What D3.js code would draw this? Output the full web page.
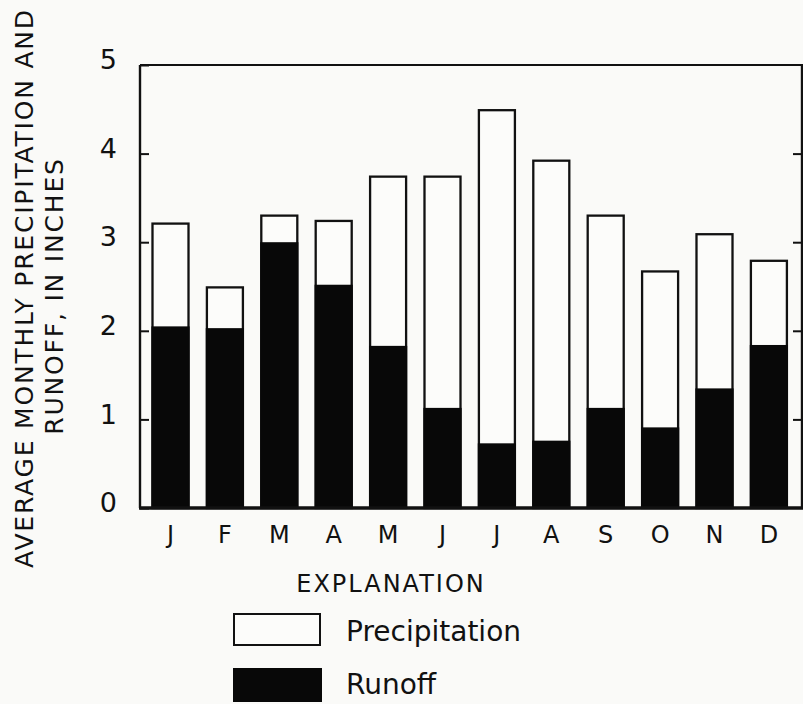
<!DOCTYPE html>
<html>
<head>
<meta charset="utf-8">
<script src="https://cdn.jsdelivr.net/npm/d3@7"></script>
<style>
  html, body { margin: 0; padding: 0; background: #fafaf8; }
  svg { display: block; }
  text { font-family: "DejaVu Sans", sans-serif; fill: #111; }
</style>
</head>
<body>
<svg id="chart" width="803" height="704"></svg>
<script>
const months = ["J","F","M","A","M","J","J","A","S","O","N","D"];
const precipitation = [3.21, 2.49, 3.30, 3.24, 3.74, 3.74, 4.49, 3.92, 3.30, 2.67, 3.09, 2.79];
const runoff = [2.05, 2.03, 3.00, 2.52, 1.83, 1.13, 0.73, 0.76, 1.13, 0.91, 1.35, 1.84];
const yTicks = [0, 1, 2, 3, 4, 5];
const yTitle = ["AVERAGE MONTHLY PRECIPITATION AND", "RUNOFF, IN INCHES"];
const legendTitle = "EXPLANATION";
const seriesNames = ["Precipitation", "Runoff"];

(function () {
const svg = d3.select("#chart");
const pLeft = 140, pRight = 802, pTop = 65, pBottom = 508;

const x = d3.scaleBand()
  .domain(d3.range(months.length))
  .range([143.3, 796.1])
  .paddingInner(0.338)
  .paddingOuter(0.169);
const y = d3.scaleLinear().domain([0, 5]).range([pBottom, pTop]);

// frame
svg.append("line").attr("x1", pLeft).attr("x2", pRight + 2).attr("y1", pTop).attr("y2", pTop)
  .attr("stroke", "#111").attr("stroke-width", 2.2);
svg.append("line").attr("x1", pLeft).attr("x2", pLeft).attr("y1", pTop).attr("y2", pBottom)
  .attr("stroke", "#111").attr("stroke-width", 2.4);
svg.append("line").attr("x1", pRight).attr("x2", pRight).attr("y1", pTop).attr("y2", pBottom)
  .attr("stroke", "#111").attr("stroke-width", 2.4);

// left axis (inward ticks)
const yAxisL = svg.append("g").attr("transform", `translate(${pLeft},0)`)
  .call(d3.axisLeft(y).tickValues(yTicks).tickSize(-9).tickPadding(23).tickFormat(d3.format("d")));
yAxisL.select(".domain").remove();
yAxisL.selectAll(".tick line").attr("stroke", "#111").attr("stroke-width", 2);
yAxisL.selectAll(".tick text").attr("font-size", 27).attr("font-family", "DejaVu Sans")
  .attr("fill", "#111").attr("dy", "0.32em").attr("y", -5);

// right axis (inward ticks)
const yAxisR = svg.append("g").attr("transform", `translate(${pRight},0)`)
  .call(d3.axisRight(y).tickValues(yTicks.slice(1, -1)).tickSize(-9).tickFormat(""));
yAxisR.select(".domain").remove();
yAxisR.selectAll(".tick line").attr("stroke", "#111").attr("stroke-width", 2);

// bars
const g = svg.append("g");
g.selectAll("rect.prec").data(precipitation).join("rect")
  .attr("class", "prec")
  .attr("x", (d, i) => x(i))
  .attr("width", x.bandwidth())
  .attr("y", d => y(d))
  .attr("height", d => y(0) - y(d))
  .attr("fill", "#fcfcfa").attr("stroke", "#111").attr("stroke-width", 2.3);
g.selectAll("rect.run").data(runoff).join("rect")
  .attr("class", "run")
  .attr("x", (d, i) => x(i) - 1.1)
  .attr("width", x.bandwidth() + 2.2)
  .attr("y", d => y(d))
  .attr("height", d => y(0) - y(d))
  .attr("fill", "#080808");

// bottom axis
svg.append("line").attr("x1", pLeft - 1).attr("x2", pRight + 2).attr("y1", pBottom).attr("y2", pBottom)
  .attr("stroke", "#111").attr("stroke-width", 3.5);
const xAxis = svg.append("g").attr("transform", `translate(0,${pBottom})`)
  .call(d3.axisBottom(x).tickSize(0).tickPadding(18).tickFormat(i => months[i]));
xAxis.select(".domain").remove();
xAxis.selectAll(".tick text").attr("font-size", 24).attr("font-family", "DejaVu Sans").attr("fill", "#111");

// y title
svg.append("text").attr("transform", "translate(33,288) rotate(-90)")
  .attr("text-anchor", "middle").attr("font-size", 25).attr("letter-spacing", 1.8)
  .text(yTitle[0]);
svg.append("text").attr("transform", "translate(63,296) rotate(-90)")
  .attr("text-anchor", "middle").attr("font-size", 25).attr("letter-spacing", 1.8)
  .text(yTitle[1]);

// legend
svg.append("text").attr("x", 391).attr("y", 592).attr("text-anchor", "middle")
  .attr("font-size", 24).attr("letter-spacing", 2).text(legendTitle);
svg.append("rect").attr("x", 234).attr("y", 614).attr("width", 86).attr("height", 31)
  .attr("fill", "#fcfcfa").attr("stroke", "#111").attr("stroke-width", 2);
svg.append("text").attr("x", 346).attr("y", 641).attr("font-size", 28).text(seriesNames[0]);
svg.append("rect").attr("x", 233).attr("y", 668).attr("width", 89).attr("height", 34)
  .attr("fill", "#080808");
svg.append("text").attr("x", 346).attr("y", 694).attr("font-size", 28).text(seriesNames[1]);
})();
</script>
</body>
</html>
